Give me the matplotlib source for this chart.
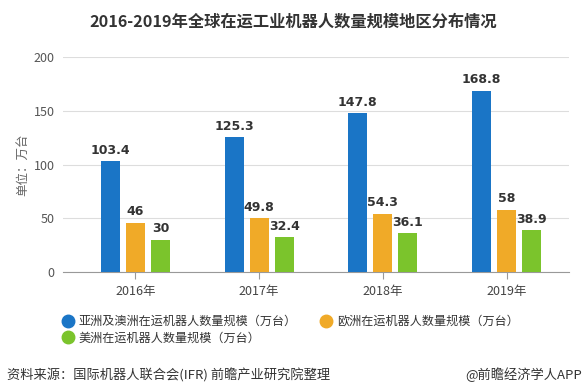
import numpy as np
import matplotlib
matplotlib.use('Agg')
import matplotlib.pyplot as plt
from matplotlib.lines import Line2D

plt.rcParams['font.family'] = ['Noto Sans CJK SC', 'DejaVu Sans']

# dati
anni = ['2016年', '2017年', '2018年', '2019年']
asia = [103.4, 125.3, 147.8, 168.8]
europa = [46, 49.8, 54.3, 58]
america = [30, 32.4, 36.1, 38.9]
serie = ['亚洲及澳洲在运机器人数量规模（万台）',
         '欧洲在运机器人数量规模（万台）',
         '美洲在运机器人数量规模（万台）']
colori = ['#1a75c6', '#f0aa28', '#7bc42c']

fig = plt.figure(figsize=(5.87, 3.91), dpi=100)
ax = fig.add_axes([63 / 587, 119 / 391, 506 / 587, 215 / 391])

x = np.arange(len(anni))
w = 0.154
step = 0.202
for i, (vals, c) in enumerate(zip([asia, europa, america], colori)):
    pos = x + (i - 1) * step
    ax.bar(pos, vals, width=w, color=c, zorder=3)
    for p, v in zip(pos, vals):
        ax.text(p, v + 4, f'{v:g}', ha='center', va='bottom',
                fontsize=9, fontweight='bold', color='#333333',
                family='DejaVu Sans', zorder=4)

ax.set_xlim(-0.586, 3.505)
ax.set_ylim(0, 200)
ax.set_yticks([0, 50, 100, 150, 200])
ax.set_xticks(x)
ax.set_xticklabels(anni)
ax.grid(axis='y', color='#dddddd', linewidth=0.8, zorder=0)
for s in ['top', 'right', 'left']:
    ax.spines[s].set_visible(False)
ax.spines['bottom'].set_color('#999999')
ax.tick_params(axis='y', length=0, labelsize=9, colors='#555555', pad=6)
ax.tick_params(axis='x', length=5, color='#999999', labelsize=9,
               labelcolor='#444444', pad=4)
ax.set_ylabel('单位：万台', fontsize=9, color='#666666')
ax.yaxis.set_label_coords(-0.066, 0.5)

# legenda
handles = [Line2D([], [], marker='o', linestyle='', markersize=9,
                  markerfacecolor=c, markeredgecolor=c) for c in colori]
fig.legend([handles[0], handles[2], handles[1]], [serie[0], serie[2], serie[1]],
           loc='upper left', bbox_to_anchor=(57 / 587, 1 - 310 / 391),
           ncol=2, frameon=False, fontsize=8.7, handletextpad=0.4,
           columnspacing=1.9, labelspacing=0.3, handlelength=1.0,
           borderaxespad=0, labelcolor='#333333')

fig.text(293 / 587, 1 - 22 / 391, '2016-2019年全球在运工业机器人数量规模地区分布情况',
         ha='center', va='center', fontsize=11.7, fontweight='bold', color='#333333')
fig.text(7 / 587, 1 - 375 / 391, '资料来源：国际机器人联合会(IFR) 前瞻产业研究院整理',
         ha='left', va='center', fontsize=9.5, color='#333333')
fig.text(582 / 587, 1 - 375 / 391, '@前瞻经济学人APP',
         ha='right', va='center', fontsize=9.5, color='#333333')

fig.savefig('out.png', dpi=100)
